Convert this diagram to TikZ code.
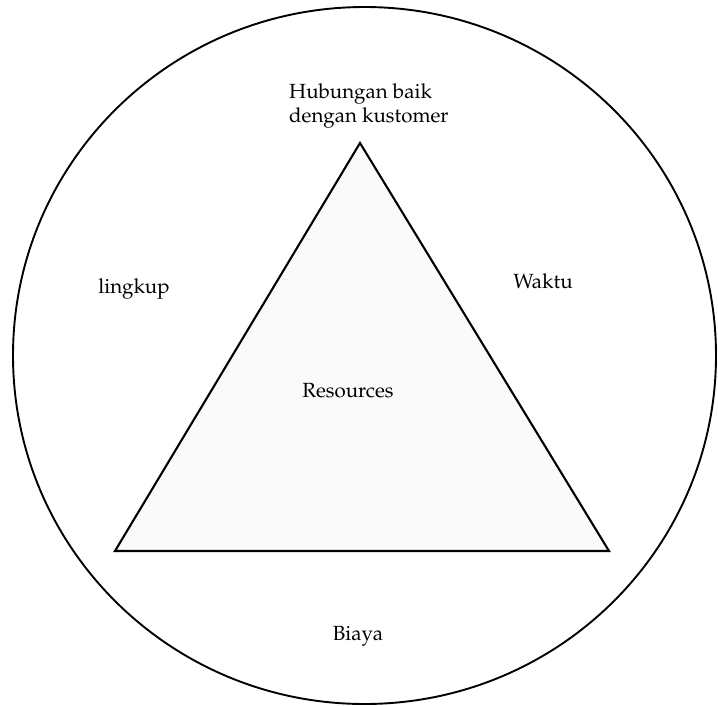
\documentclass[tikz,border=0pt]{standalone}
\usepackage[T1]{fontenc}
\usepackage{mathpazo}
\begin{document}
\begin{tikzpicture}[x=1pt,y=-1pt,
  outline/.style={draw=black,line width=2.1pt,line join=miter},
  label/.style={inner sep=0pt,font=\fontsize{20.5}{24}\selectfont}]
\useasboundingbox (0,0) rectangle (718,705);
% outer ring
\draw[outline,line width=1.9pt] (364.5,355.5) ellipse [x radius=351.5, y radius=348.5];
% corners of the triangle
\coordinate (apex) at (360,143);
\coordinate (bl) at (115,551);
\coordinate (br) at (609,551);
\draw[outline,fill=black!2] (apex) -- (br) -- (bl) -- cycle;
% texts
\node[label,align=left,anchor=west] (top) at (289,106) {Hubungan baik\\dengan kustomer};
\node[label,anchor=base] (scope) at (134,293) {lingkup};
\node[label,anchor=base] (time) at (543,288) {Waktu};
\node[label,anchor=base] (res) at (348,397) {Resources};
\node[label,anchor=base] (cost) at (358,640) {Biaya};
\end{tikzpicture}
\end{document}
